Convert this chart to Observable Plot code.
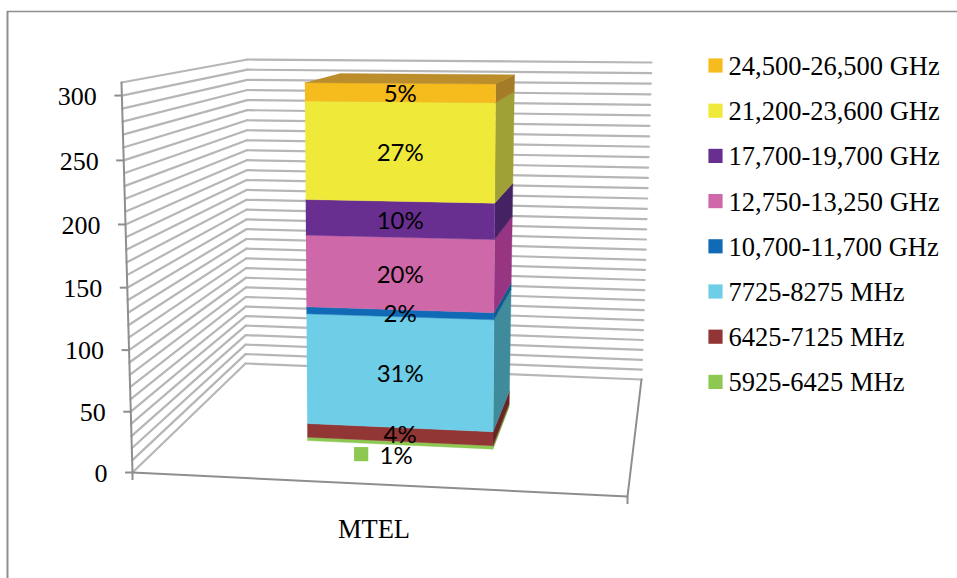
<!DOCTYPE html>
<html>
<head>
<meta charset="utf-8">
<style>html,body{margin:0;padding:0;background:#fff}svg{display:block}</style>
<script src="https://cdn.jsdelivr.net/npm/d3@7"></script>
<script src="https://cdn.jsdelivr.net/npm/@observablehq/plot@0.6"></script>
</head>
<body>
<div id="chart"></div>
<script>
// Data
const category = "MTEL";
const bands = ["5925-6425 MHz","6425-7125 MHz","7725-8275 MHz","10,700-11,700 GHz","12,750-13,250 GHz","17,700-19,700 GHz","21,200-23,600 GHz","24,500-26,500 GHz"];
const values = [3,12,95.4,6,61,30,81.6,15];
const shares = ["1%","4%","31%","2%","20%","10%","27%","5%"];
const yTicks = [0,50,100,150,200,250,300];
const gridValues = [0,10,20,30,40,50,60,70,80,90,100,110,120,130,140,150,160,170,180,190,200,210,220,230,240,250,260,270,280,290,300,310];

// Colours
const frontColors = ["#8DC853","#913535","#6ECEE8","#116AB5","#CE68A8","#682F91","#EFEA3A","#F6BB1C"];
const sideColors  = ["#78A33F","#6A2526","#3F8B9C","#0E5C8E","#973583","#452264","#9FA035","#A47C27"];
const topColor = "#BC8E2B";

// Oblique view of the chart box: the eight corners of the box in the picture
const vMax = 310;
const bend = 0.04;
const view = {
  floor: {fl:[132,472], fr:[627,496], bl:[245,363], br:[641,379]},
  roof:  {fl:[121,82],  fr:[632,85],  bl:[247,59],  br:[651,62]}
};
const bar = {u0:0.294, u1:0.697, d0:0.35, d1:0.72};

function project(u,d,v){
  const r = v/vMax;
  const t = r - bend*r*(1-r);
  const plane = p => [0,1].map(i =>
    (1-u)*(1-d)*p.fl[i] + u*(1-d)*p.fr[i] + (1-u)*d*p.bl[i] + u*d*p.br[i]);
  const a = plane(view.floor), b = plane(view.roof);
  return {x:a[0]+(b[0]-a[0])*t, y:a[1]+(b[1]-a[1])*t};
}
const seg = (key,p,q)=>[{key,...project(...p)},{key,...project(...q)}];

// Stack
let acc = 0;
const stack = values.map((v,i)=>{const r={i,v0:acc,v1:acc+v}; acc+=v; return r;});
const total = acc;

// Gridlines on the two walls
const gridLines = [];
gridValues.forEach(v=>{
  gridLines.push(...seg("l"+v,[0,0,v],[0,1,v]));
  gridLines.push(...seg("b"+v,[0,1,v],[1,1,v]));
});
// Axes and floor edges
const axisLines = [
  ...seg("axisY",[0,0,0],[0,0,vMax]),
  ...seg("front",[0,0,0],[1,0,0]),
  ...seg("right",[1,0,0],[1,1,0]),
];
// Faces
const poly = (key,color,corners)=>corners.map(c=>({key,color,...project(...c)}));
const {u0,u1,d0,d1} = bar;
const faces = [];
stack.forEach(s=>{
  faces.push(...poly("s"+s.i,sideColors[s.i],[[u1,d0,s.v0],[u1,d1,s.v0],[u1,d1,s.v1],[u1,d0,s.v1]]));
  faces.push(...poly("f"+s.i,frontColors[s.i],[[u0,d0,s.v0],[u1,d0,s.v0],[u1,d0,s.v1],[u0,d0,s.v1]]));
});
faces.push(...poly("top",topColor,[[u0,d0,total],[u1,d0,total],[u1,d1,total],[u0,d1,total]]));

// Data labels at the middle of each front face
const um=(u0+u1)/2;
const labelShift = [[-4,13],[0,1],[0,2],[0,1],[0,2],[0,2],[0,1],[0,2]];
const labels = stack.map(s=>{
  const p = project(um,d0,(s.v0+s.v1)/2);
  return {text:shares[s.i],x:p.x+labelShift[s.i][0],y:p.y+labelShift[s.i][1]};
});
const tickRows = yTicks.map(v=>({v,...project(0,0,v)}));
const legendRows = bands.map((b,i)=>({b,color:frontColors[i],row:bands.length-1-i}));
const legendX = 715, legendTop = 65, legendStep = 45.2;

const serif = "'Liberation Serif','Times New Roman',serif";
const hTick = {draw(c,s){const h=Math.sqrt(s/Math.PI);c.moveTo(-h,0);c.lineTo(h,0);}};
const vTick = {draw(c,s){const h=Math.sqrt(s/Math.PI);c.moveTo(0,-h);c.lineTo(0,h);}};

const chart = Plot.plot({
  width:957, height:578, margin:0,
  x:{domain:[0,957],range:[0,957],axis:null},
  y:{domain:[0,578],range:[0,578],axis:null},
  color:{type:"identity"},
  style:{background:"#fff"},
  marks:[
    // outer frame (top and left edges of the picture box)
    Plot.ruleY([11],{x1:7,x2:957,stroke:"#8e8e8e",strokeWidth:1.5}),
    Plot.ruleX([7],{y1:11,y2:578,stroke:"#8e8e8e",strokeWidth:2}),

    Plot.line(gridLines,{x:"x",y:"y",z:"key",stroke:"#b6b6b6",strokeWidth:2.2}),
    Plot.line(axisLines,{x:"x",y:"y",z:"key",stroke:"#8e8e8e",strokeWidth:2}),

    // y ticks and x ticks
    Plot.dot(tickRows,{x:"x",y:"y",dx:-4,r:3.5,symbol:hTick,stroke:"#8e8e8e",strokeWidth:2,fill:"none"}),
    Plot.dot([project(0,0,0),project(1,0,0)],{x:"x",y:"y",dy:4,r:3.5,symbol:vTick,stroke:"#8e8e8e",strokeWidth:2,fill:"none"}),
    Plot.text(tickRows,{x:"x",y:"y",text:d=>String(d.v),dx:-25,dy:1,textAnchor:"end",fontFamily:serif,fontSize:26,fill:"#000"}),

    // bar
    Plot.line(faces,{x:"x",y:"y",z:"key",fill:"color",stroke:"color",strokeWidth:0.4}),

    // data labels
    Plot.text(labels,{x:"x",y:"y",text:"text",fontFamily:"Lato",fontSize:24,fill:"#000"}),
    Plot.dot([labels[0]],{x:"x",y:"y",dx:-35,dy:-2,r:8,symbol:"square",fill:frontColors[0],stroke:"none"}),

    // category label
    Plot.text([project(0.5,0,0)],{x:"x",y:"y",text:()=>category,dx:-6,dy:45,fontFamily:serif,fontSize:26.5,fill:"#000"}),

    // legend
    Plot.dot(legendRows,{x:()=>legendX,y:d=>legendTop+d.row*legendStep,r:8,symbol:"square",fill:"color",stroke:"none"}),
    Plot.text(legendRows,{x:()=>legendX,y:d=>legendTop+d.row*legendStep,text:"b",dx:13,dy:1,textAnchor:"start",fontFamily:serif,fontSize:26.5,fill:"#000"})
  ]
});
document.getElementById("chart").append(chart);
</script>
</body>
</html>
